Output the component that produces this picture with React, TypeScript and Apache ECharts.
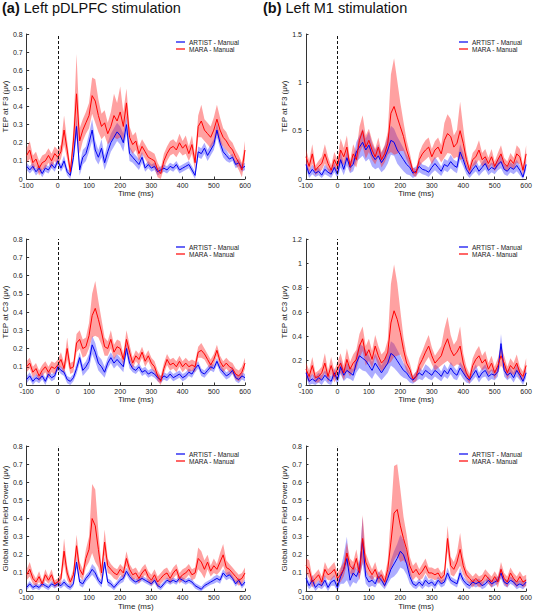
import React, { useEffect, useRef } from "react";
import * as echarts from "echarts";

// ---------- data ----------
const times = [
  "-100", "-90", "-80", "-70", "-60", "-50", "-40", "-30", "-20", "-10",
  "0", "10", "20", "30", "40", "50", "60", "70", "80", "90",
  "100", "110", "120", "130", "140", "150", "160", "170", "180", "190",
  "200", "210", "220", "230", "240", "250", "260", "270", "280", "290",
  "300", "310", "320", "330", "340", "350", "360", "370", "380", "390",
  "400", "410", "420", "430", "440", "450", "460", "470", "480", "490",
  "500", "510", "520", "530", "540", "550", "560", "570", "580", "590",
  "600",
];

const legendNames = ["ARTIST - Manual", "MARA - Manual"];

// (a) pDLPFC, F3
const a1Mara = [
  0.13, 0.16, 0.09, 0.11, 0.06, 0.09, 0.10, 0.13, 0.10, 0.14,
  0.12, 0.15, 0.27, 0.16, 0.04, 0.21, 0.47, 0.21, 0.27, 0.31,
  0.35, 0.46, 0.43, 0.35, 0.29, 0.31, 0.25, 0.29, 0.35, 0.32,
  0.37, 0.29, 0.42, 0.23, 0.19, 0.21, 0.14, 0.18, 0.15, 0.12,
  0.11, 0.10, 0.05, 0.03, 0.10, 0.14, 0.17, 0.18, 0.16, 0.20,
  0.17, 0.19, 0.14, 0.19, 0.09, 0.29, 0.32, 0.27, 0.25, 0.23,
  0.27, 0.33, 0.27, 0.23, 0.21, 0.18, 0.16, 0.12, 0.09, 0.05,
  0.16,
];
const a1MaraSpread = [
  0.04, 0.05, 0.04, 0.04, 0.04, 0.04, 0.04, 0.04, 0.04, 0.04,
  0.04, 0.04, 0.08, 0.05, 0.03, 0.06, 0.22, 0.07, 0.06, 0.06,
  0.07, 0.10, 0.12, 0.09, 0.07, 0.07, 0.06, 0.08, 0.12, 0.10,
  0.14, 0.08, 0.08, 0.06, 0.05, 0.05, 0.04, 0.04, 0.04, 0.04,
  0.04, 0.04, 0.04, 0.03, 0.04, 0.04, 0.04, 0.04, 0.04, 0.05,
  0.04, 0.05, 0.04, 0.05, 0.04, 0.06, 0.09, 0.06, 0.06, 0.06,
  0.07, 0.08, 0.07, 0.05, 0.05, 0.04, 0.04, 0.04, 0.04, 0.04,
  0.05,
];
const a1Artist = [
  0.07, 0.05, 0.07, 0.04, 0.06, 0.03, 0.06, 0.05, 0.08, 0.06,
  0.10, 0.06, 0.10, 0.04, 0.02, 0.12, 0.29, 0.05, 0.12, 0.14,
  0.20, 0.27, 0.16, 0.12, 0.17, 0.09, 0.15, 0.20, 0.23, 0.26,
  0.24, 0.20, 0.30, 0.14, 0.12, 0.10, 0.08, 0.12, 0.06, 0.08,
  0.06, 0.07, 0.04, 0.05, 0.06, 0.05, 0.07, 0.06, 0.08, 0.05,
  0.06, 0.07, 0.08, 0.05, 0.02, 0.15, 0.14, 0.17, 0.13, 0.16,
  0.19, 0.27, 0.20, 0.15, 0.13, 0.11, 0.12, 0.08, 0.09, 0.06,
  0.07,
];
const a1ArtistSpread = [
  0.02, 0.02, 0.02, 0.02, 0.02, 0.02, 0.02, 0.02, 0.02, 0.02,
  0.02, 0.02, 0.03, 0.02, 0.02, 0.03, 0.06, 0.03, 0.04, 0.04,
  0.05, 0.06, 0.05, 0.04, 0.05, 0.04, 0.05, 0.05, 0.05, 0.05,
  0.05, 0.05, 0.05, 0.04, 0.03, 0.03, 0.03, 0.03, 0.02, 0.02,
  0.02, 0.02, 0.02, 0.02, 0.02, 0.02, 0.02, 0.02, 0.02, 0.02,
  0.02, 0.02, 0.02, 0.02, 0.02, 0.03, 0.03, 0.03, 0.03, 0.03,
  0.03, 0.04, 0.03, 0.03, 0.03, 0.02, 0.02, 0.02, 0.02, 0.02,
  0.02,
];

// (b) M1, F3
const b1Mara = [
  0.23, 0.13, 0.26, 0.09, 0.13, 0.16, 0.26, 0.16, 0.09, 0.20,
  0.13, 0.30, 0.23, 0.33, 0.13, 0.26, 0.20, 0.40, 0.50, 0.33,
  0.40, 0.30, 0.23, 0.33, 0.20, 0.26, 0.37, 0.68, 0.75, 0.64,
  0.54, 0.44, 0.30, 0.20, 0.08, 0.06, 0.20, 0.26, 0.30, 0.33,
  0.23, 0.30, 0.33, 0.26, 0.40, 0.47, 0.44, 0.33, 0.37, 0.50,
  0.37, 0.20, 0.09, 0.20, 0.23, 0.30, 0.20, 0.23, 0.16, 0.23,
  0.13, 0.20, 0.26, 0.16, 0.13, 0.20, 0.16, 0.26, 0.23, 0.09,
  0.26,
];
const b1MaraSpread = [
  0.08, 0.06, 0.10, 0.05, 0.06, 0.07, 0.10, 0.07, 0.05, 0.08,
  0.07, 0.12, 0.09, 0.12, 0.06, 0.10, 0.08, 0.14, 0.16, 0.12,
  0.12, 0.10, 0.08, 0.10, 0.08, 0.09, 0.12, 0.40, 0.50, 0.38,
  0.25, 0.15, 0.10, 0.07, 0.04, 0.04, 0.07, 0.09, 0.10, 0.10,
  0.08, 0.09, 0.10, 0.09, 0.18, 0.20, 0.18, 0.12, 0.14, 0.30,
  0.16, 0.08, 0.05, 0.07, 0.08, 0.10, 0.07, 0.08, 0.06, 0.08,
  0.05, 0.07, 0.09, 0.06, 0.05, 0.07, 0.06, 0.09, 0.08, 0.05,
  0.09,
];
const b1Artist = [
  0.15, 0.05, 0.10, 0.06, 0.08, 0.04, 0.10, 0.07, 0.05, 0.12,
  0.05, 0.20, 0.10, 0.22, 0.12, 0.15, 0.28, 0.33, 0.38, 0.30,
  0.35, 0.25, 0.20, 0.24, 0.17, 0.22, 0.30, 0.40, 0.38, 0.30,
  0.25, 0.20, 0.15, 0.12, 0.06, 0.08, 0.13, 0.10, 0.09, 0.07,
  0.12, 0.16, 0.12, 0.08, 0.15, 0.13, 0.18, 0.14, 0.12, 0.28,
  0.20, 0.10, 0.05, 0.10, 0.14, 0.08, 0.12, 0.16, 0.09, 0.12,
  0.10, 0.15, 0.18, 0.10, 0.08, 0.12, 0.10, 0.14, 0.09, 0.02,
  0.15,
];
const b1ArtistSpread = [
  0.05, 0.04, 0.05, 0.04, 0.04, 0.03, 0.05, 0.04, 0.04, 0.05,
  0.04, 0.08, 0.06, 0.08, 0.06, 0.07, 0.10, 0.12, 0.14, 0.12,
  0.14, 0.12, 0.10, 0.12, 0.10, 0.12, 0.14, 0.15, 0.14, 0.14,
  0.13, 0.12, 0.10, 0.08, 0.05, 0.05, 0.06, 0.05, 0.05, 0.05,
  0.06, 0.07, 0.06, 0.05, 0.06, 0.06, 0.07, 0.06, 0.06, 0.08,
  0.07, 0.05, 0.04, 0.05, 0.06, 0.05, 0.05, 0.06, 0.05, 0.05,
  0.05, 0.06, 0.07, 0.05, 0.05, 0.05, 0.05, 0.06, 0.05, 0.03,
  0.06,
];

// (a) pDLPFC, C3
const a2Mara = [
  0.10, 0.12, 0.07, 0.09, 0.05, 0.08, 0.10, 0.07, 0.10, 0.09,
  0.11, 0.14, 0.09, 0.20, 0.09, 0.10, 0.23, 0.25, 0.20, 0.21,
  0.27, 0.38, 0.42, 0.36, 0.29, 0.21, 0.20, 0.25, 0.18, 0.21,
  0.20, 0.14, 0.25, 0.18, 0.12, 0.16, 0.14, 0.18, 0.13, 0.16,
  0.12, 0.10, 0.05, 0.02, 0.09, 0.14, 0.11, 0.12, 0.10, 0.13,
  0.10, 0.12, 0.10, 0.11, 0.10, 0.18, 0.19, 0.17, 0.14, 0.11,
  0.14, 0.19, 0.13, 0.10, 0.12, 0.10, 0.09, 0.06, 0.05, 0.07,
  0.12,
];
const a2MaraSpread = [
  0.03, 0.03, 0.03, 0.03, 0.03, 0.03, 0.03, 0.03, 0.03, 0.03,
  0.03, 0.04, 0.03, 0.06, 0.03, 0.03, 0.05, 0.05, 0.05, 0.05,
  0.07, 0.12, 0.15, 0.10, 0.07, 0.05, 0.04, 0.05, 0.04, 0.04,
  0.04, 0.03, 0.05, 0.04, 0.03, 0.03, 0.03, 0.03, 0.03, 0.03,
  0.03, 0.03, 0.03, 0.03, 0.03, 0.03, 0.03, 0.03, 0.03, 0.03,
  0.03, 0.03, 0.03, 0.03, 0.03, 0.03, 0.04, 0.03, 0.03, 0.03,
  0.03, 0.03, 0.03, 0.03, 0.03, 0.03, 0.03, 0.03, 0.03, 0.03,
  0.03,
];
const a2Artist = [
  0.03, 0.05, 0.02, 0.04, 0.03, 0.05, 0.02, 0.06, 0.04, 0.05,
  0.10, 0.08, 0.07, 0.03, 0.02, 0.04, 0.09, 0.15, 0.08, 0.10,
  0.13, 0.22, 0.18, 0.12, 0.10, 0.07, 0.12, 0.15, 0.12, 0.14,
  0.12, 0.10, 0.20, 0.12, 0.09, 0.08, 0.10, 0.07, 0.08, 0.06,
  0.07, 0.06, 0.04, 0.03, 0.05, 0.04, 0.06, 0.04, 0.05, 0.06,
  0.04, 0.05, 0.07, 0.06, 0.09, 0.11, 0.07, 0.06, 0.08, 0.10,
  0.09, 0.13, 0.09, 0.07, 0.05, 0.06, 0.08, 0.04, 0.03, 0.05,
  0.04,
];
const a2ArtistSpread = [
  0.02, 0.02, 0.02, 0.02, 0.02, 0.02, 0.02, 0.02, 0.02, 0.02,
  0.02, 0.02, 0.02, 0.02, 0.02, 0.02, 0.03, 0.03, 0.03, 0.03,
  0.04, 0.05, 0.05, 0.04, 0.04, 0.03, 0.03, 0.03, 0.03, 0.03,
  0.03, 0.03, 0.03, 0.03, 0.02, 0.02, 0.02, 0.02, 0.02, 0.02,
  0.02, 0.02, 0.02, 0.02, 0.02, 0.02, 0.02, 0.02, 0.02, 0.02,
  0.02, 0.02, 0.02, 0.02, 0.02, 0.02, 0.02, 0.02, 0.02, 0.02,
  0.02, 0.02, 0.02, 0.02, 0.02, 0.02, 0.02, 0.02, 0.02, 0.02,
  0.02,
];

// (b) M1, C3
const b2Mara = [
  0.13, 0.07, 0.16, 0.06, 0.07, 0.10, 0.18, 0.07, 0.16, 0.07,
  0.13, 0.18, 0.10, 0.21, 0.13, 0.18, 0.21, 0.32, 0.38, 0.24,
  0.29, 0.21, 0.32, 0.24, 0.18, 0.21, 0.27, 0.51, 0.61, 0.54,
  0.43, 0.29, 0.18, 0.13, 0.05, 0.07, 0.16, 0.21, 0.27, 0.32,
  0.24, 0.18, 0.21, 0.24, 0.32, 0.38, 0.29, 0.24, 0.27, 0.32,
  0.18, 0.10, 0.05, 0.16, 0.21, 0.24, 0.18, 0.21, 0.13, 0.18,
  0.10, 0.16, 0.24, 0.18, 0.10, 0.16, 0.13, 0.18, 0.10, 0.07,
  0.16,
];
const b2MaraSpread = [
  0.06, 0.05, 0.07, 0.04, 0.05, 0.05, 0.08, 0.05, 0.07, 0.05,
  0.06, 0.08, 0.06, 0.09, 0.06, 0.07, 0.08, 0.10, 0.10, 0.08,
  0.09, 0.07, 0.09, 0.08, 0.07, 0.07, 0.10, 0.32, 0.38, 0.30,
  0.18, 0.10, 0.07, 0.05, 0.03, 0.04, 0.06, 0.07, 0.08, 0.09,
  0.07, 0.06, 0.07, 0.08, 0.14, 0.18, 0.12, 0.09, 0.10, 0.16,
  0.08, 0.05, 0.04, 0.06, 0.07, 0.08, 0.06, 0.07, 0.05, 0.06,
  0.05, 0.06, 0.08, 0.06, 0.05, 0.06, 0.05, 0.07, 0.05, 0.04,
  0.06,
];
const b2Artist = [
  0.10, 0.03, 0.05, 0.03, 0.06, 0.04, 0.08, 0.05, 0.03, 0.10,
  0.04, 0.15, 0.08, 0.12, 0.10, 0.08, 0.18, 0.24, 0.22, 0.20,
  0.16, 0.12, 0.18, 0.14, 0.10, 0.14, 0.18, 0.26, 0.24, 0.20,
  0.16, 0.12, 0.10, 0.06, 0.04, 0.07, 0.10, 0.08, 0.12, 0.10,
  0.08, 0.12, 0.10, 0.07, 0.12, 0.09, 0.14, 0.10, 0.08, 0.14,
  0.10, 0.06, 0.04, 0.08, 0.12, 0.06, 0.10, 0.12, 0.07, 0.09,
  0.08, 0.11, 0.34, 0.12, 0.08, 0.10, 0.06, 0.12, 0.08, 0.03,
  0.10,
];
const b2ArtistSpread = [
  0.04, 0.04, 0.04, 0.04, 0.04, 0.04, 0.04, 0.04, 0.04, 0.04,
  0.04, 0.06, 0.05, 0.06, 0.05, 0.05, 0.08, 0.10, 0.10, 0.09,
  0.08, 0.07, 0.08, 0.07, 0.06, 0.07, 0.08, 0.10, 0.10, 0.09,
  0.08, 0.06, 0.05, 0.04, 0.03, 0.04, 0.05, 0.04, 0.05, 0.05,
  0.04, 0.05, 0.05, 0.04, 0.05, 0.04, 0.05, 0.05, 0.04, 0.05,
  0.05, 0.04, 0.03, 0.04, 0.05, 0.04, 0.04, 0.05, 0.04, 0.04,
  0.04, 0.04, 0.08, 0.05, 0.04, 0.04, 0.04, 0.05, 0.04, 0.03,
  0.04,
];

// (a) pDLPFC, GMFP
const a3Mara = [
  0.09, 0.12, 0.07, 0.05, 0.08, 0.04, 0.09, 0.06, 0.09, 0.04,
  0.05, 0.07, 0.22, 0.10, 0.05, 0.09, 0.25, 0.12, 0.09, 0.18,
  0.23, 0.40, 0.36, 0.23, 0.10, 0.27, 0.14, 0.12, 0.10, 0.09,
  0.12, 0.10, 0.18, 0.12, 0.09, 0.10, 0.07, 0.10, 0.12, 0.08,
  0.06, 0.09, 0.05, 0.07, 0.09, 0.10, 0.07, 0.10, 0.12, 0.07,
  0.09, 0.10, 0.12, 0.09, 0.10, 0.18, 0.16, 0.12, 0.16, 0.11,
  0.14, 0.12, 0.16, 0.20, 0.13, 0.12, 0.10, 0.08, 0.06, 0.07,
  0.10,
];
const a3MaraSpread = [
  0.03, 0.04, 0.03, 0.02, 0.03, 0.02, 0.03, 0.02, 0.03, 0.02,
  0.02, 0.03, 0.07, 0.04, 0.02, 0.03, 0.06, 0.04, 0.03, 0.05,
  0.07, 0.19, 0.20, 0.10, 0.04, 0.07, 0.04, 0.03, 0.03, 0.03,
  0.03, 0.03, 0.04, 0.03, 0.03, 0.03, 0.03, 0.03, 0.03, 0.03,
  0.03, 0.03, 0.03, 0.03, 0.03, 0.03, 0.03, 0.03, 0.03, 0.03,
  0.03, 0.03, 0.03, 0.03, 0.03, 0.06, 0.06, 0.05, 0.04, 0.03,
  0.04, 0.03, 0.05, 0.06, 0.04, 0.03, 0.03, 0.03, 0.03, 0.03,
  0.03,
];
const a3Artist = [
  0.02, 0.04, 0.02, 0.03, 0.02, 0.04, 0.03, 0.02, 0.04, 0.03,
  0.04, 0.03, 0.05, 0.03, 0.02, 0.04, 0.16, 0.05, 0.04, 0.07,
  0.09, 0.12, 0.10, 0.06, 0.04, 0.16, 0.05, 0.04, 0.02, 0.04,
  0.06, 0.07, 0.11, 0.08, 0.06, 0.05, 0.06, 0.07, 0.06, 0.05,
  0.04, 0.06, 0.03, 0.02, 0.04, 0.06, 0.05, 0.06, 0.05, 0.07,
  0.06, 0.05, 0.06, 0.05, 0.03, 0.02, 0.01, 0.03, 0.04, 0.05,
  0.06, 0.07, 0.06, 0.10, 0.08, 0.09, 0.07, 0.04, 0.06, 0.03,
  0.05,
];
const a3ArtistSpread = [
  0.015, 0.015, 0.015, 0.015, 0.015, 0.015, 0.015, 0.015, 0.015, 0.015,
  0.015, 0.015, 0.02, 0.015, 0.015, 0.015, 0.03, 0.02, 0.02, 0.02,
  0.02, 0.03, 0.03, 0.02, 0.02, 0.03, 0.02, 0.02, 0.015, 0.015,
  0.02, 0.02, 0.02, 0.02, 0.015, 0.015, 0.015, 0.015, 0.015, 0.015,
  0.015, 0.015, 0.015, 0.015, 0.015, 0.015, 0.015, 0.015, 0.015, 0.015,
  0.015, 0.015, 0.015, 0.015, 0.015, 0.015, 0.015, 0.015, 0.015, 0.015,
  0.02, 0.02, 0.02, 0.02, 0.02, 0.02, 0.015, 0.015, 0.015, 0.015,
  0.015,
];

// (b) M1, GMFP
const b3Mara = [
  0.14, 0.12, 0.05, 0.07, 0.09, 0.05, 0.12, 0.09, 0.10, 0.12,
  0.07, 0.09, 0.12, 0.21, 0.14, 0.12, 0.18, 0.10, 0.29, 0.16,
  0.12, 0.09, 0.12, 0.07, 0.09, 0.05, 0.12, 0.27, 0.43, 0.45,
  0.36, 0.29, 0.23, 0.14, 0.10, 0.12, 0.09, 0.11, 0.14, 0.10,
  0.10, 0.09, 0.10, 0.07, 0.09, 0.29, 0.14, 0.12, 0.16, 0.23,
  0.14, 0.09, 0.07, 0.05, 0.07, 0.05, 0.06, 0.09, 0.07, 0.05,
  0.08, 0.05, 0.12, 0.07, 0.05, 0.10, 0.07, 0.05, 0.08, 0.05,
  0.06,
];
const b3MaraSpread = [
  0.04, 0.05, 0.03, 0.03, 0.03, 0.03, 0.04, 0.03, 0.04, 0.04,
  0.03, 0.04, 0.04, 0.06, 0.04, 0.04, 0.05, 0.04, 0.13, 0.05,
  0.04, 0.03, 0.04, 0.03, 0.03, 0.03, 0.05, 0.15, 0.26, 0.25,
  0.20, 0.12, 0.08, 0.05, 0.04, 0.04, 0.03, 0.04, 0.04, 0.03,
  0.03, 0.03, 0.03, 0.03, 0.03, 0.07, 0.05, 0.04, 0.05, 0.09,
  0.05, 0.03, 0.03, 0.03, 0.03, 0.03, 0.03, 0.03, 0.03, 0.03,
  0.03, 0.03, 0.04, 0.03, 0.03, 0.03, 0.03, 0.03, 0.03, 0.03,
  0.03,
];
const b3Artist = [
  0.07, 0.03, 0.06, 0.02, 0.04, 0.03, 0.06, 0.02, 0.05, 0.06,
  0.02, 0.08, 0.12, 0.18, 0.06, 0.10, 0.08, 0.12, 0.28, 0.08,
  0.05, 0.06, 0.04, 0.08, 0.06, 0.03, 0.07, 0.12, 0.15, 0.18,
  0.22, 0.20, 0.15, 0.08, 0.04, 0.03, 0.05, 0.03, 0.06, 0.04,
  0.05, 0.03, 0.06, 0.04, 0.05, 0.10, 0.06, 0.05, 0.04, 0.10,
  0.06, 0.04, 0.03, 0.05, 0.04, 0.05, 0.03, 0.04, 0.06, 0.04,
  0.05, 0.06, 0.10, 0.05, 0.04, 0.06, 0.05, 0.03, 0.04, 0.03,
  0.05,
];
const b3ArtistSpread = [
  0.03, 0.02, 0.03, 0.02, 0.02, 0.02, 0.03, 0.02, 0.02, 0.03,
  0.02, 0.04, 0.08, 0.12, 0.04, 0.05, 0.04, 0.05, 0.13, 0.04,
  0.03, 0.03, 0.02, 0.03, 0.03, 0.02, 0.03, 0.05, 0.07, 0.08,
  0.09, 0.08, 0.06, 0.04, 0.02, 0.02, 0.02, 0.02, 0.03, 0.02,
  0.02, 0.02, 0.02, 0.02, 0.02, 0.03, 0.02, 0.02, 0.02, 0.03,
  0.02, 0.02, 0.02, 0.02, 0.02, 0.02, 0.02, 0.02, 0.02, 0.02,
  0.02, 0.02, 0.03, 0.02, 0.02, 0.02, 0.02, 0.02, 0.02, 0.02,
  0.02,
];

// ---------- layout / panel config ----------
const FONT = "Liberation Sans, Arial, Helvetica, sans-serif";
const RED = "#ff0000";
const BLUE = "#0000f0";
const RED_BAND = "rgba(255, 30, 30, 0.42)";
const BLUE_BAND = "rgba(40, 40, 255, 0.38)";

const panels = [
  { left: 23, top: 34, height: 145, yMax: 0.8, yStep: 0.1, yName: "TEP at F3 (\u03bcv)", mara: a1Mara, maraS: a1MaraSpread, artist: a1Artist, artistS: a1ArtistSpread },
  { left: 306, top: 34, height: 145, yMax: 1.5, yStep: 0.5, yName: "TEP at F3 (\u03bcv)", mara: b1Mara, maraS: b1MaraSpread, artist: b1Artist, artistS: b1ArtistSpread },
  { left: 23, top: 239, height: 146, yMax: 0.8, yStep: 0.1, yName: "TEP at C3 (\u03bcv)", mara: a2Mara, maraS: a2MaraSpread, artist: a2Artist, artistS: a2ArtistSpread },
  { left: 306, top: 239, height: 146, yMax: 1.2, yStep: 0.2, yName: "TEP at C3 (\u03bcv)", mara: b2Mara, maraS: b2MaraSpread, artist: b2Artist, artistS: b2ArtistSpread },
  { left: 23, top: 446, height: 146, yMax: 0.8, yStep: 0.1, yName: "Global Mean Field Power (\u03bcv)", mara: a3Mara, maraS: a3MaraSpread, artist: a3Artist, artistS: a3ArtistSpread },
  { left: 306, top: 446, height: 146, yMax: 0.8, yStep: 0.1, yName: "Global Mean Field Power (\u03bcv)", mara: b3Mara, maraS: b3MaraSpread, artist: b3Artist, artistS: b3ArtistSpread },
];
const PLOT_W = 222;

function bandSeries(i: number, mean: number[], spread: number[], color: string, id: string) {
  const lower = mean.map((m, j) => Math.max(0, m - spread[j]));
  const diff = mean.map((m, j) => m + spread[j] - lower[j]);
  const common = {
    type: "line",
    xAxisIndex: i,
    yAxisIndex: i,
    stack: id,
    stackStrategy: "all",
    symbol: "none",
    silent: true,
    lineStyle: { width: 0, opacity: 0 },
  };
  return [
    { ...common, name: id + "-lo", data: lower },
    { ...common, name: id + "-hi", data: diff, areaStyle: { color, opacity: 1 } },
  ];
}

function lineSeries(i: number, mean: number[], color: string, name: string, withMark: boolean) {
  const s: any = {
    type: "line",
    name,
    xAxisIndex: i,
    yAxisIndex: i,
    symbol: "none",
    color,
    itemStyle: { color },
    lineStyle: { color, width: 1 },
    data: mean,
  };
  if (withMark) {
    s.markLine = {
      silent: true,
      symbol: ["none", "none"],
      label: { show: false },
      lineStyle: { type: [3, 2], color: "#111", width: 1 },
      data: [{ xAxis: "0" }],
    };
  }
  return s;
}

export default function App() {
  const ref = useRef<HTMLDivElement>(null);
  useEffect(() => {
    if (!ref.current) return;
    const chart = echarts.init(ref.current, null, { renderer: "svg" });
    const grid = panels.map((p) => ({ left: p.left, top: p.top, width: PLOT_W, height: p.height, containLabel: false }));
    const xAxis = panels.map((p, i) => ({
      type: "category",
      gridIndex: i,
      data: times,
      boundaryGap: false,
      name: "Time (ms)",
      nameLocation: "middle",
      nameGap: 10,
      nameTextStyle: { fontSize: 8, color: "#222", fontFamily: FONT },
      axisLine: { show: true, lineStyle: { color: "#333", width: 1 } },
      axisTick: { show: true, inside: true, length: 2.5, interval: 9, lineStyle: { color: "#333" } },
      axisLabel: { fontSize: 7, color: "#222", margin: 3, fontFamily: FONT, interval: 9, showMinLabel: true, showMaxLabel: true },
      splitLine: { show: false },
    }));
    const yAxis = panels.map((p, i) => ({
      type: "value",
      gridIndex: i,
      min: 0,
      max: p.yMax,
      interval: p.yStep,
      name: p.yName,
      nameLocation: "middle",
      nameGap: 14,
      nameTextStyle: { fontSize: 8, color: "#222", fontFamily: FONT },
      axisLine: { show: true, lineStyle: { color: "#333", width: 1 } },
      axisTick: { show: true, inside: true, length: 2.5, lineStyle: { color: "#333" } },
      axisLabel: { fontSize: 7, color: "#222", margin: 4, fontFamily: FONT },
      splitLine: { show: false },
    }));
    const series: any[] = [];
    panels.forEach((p, i) => {
      series.push(...bandSeries(i, p.artist, p.artistS, BLUE_BAND, "artist" + i));
      series.push(lineSeries(i, p.artist, BLUE, legendNames[0], false));
      series.push(...bandSeries(i, p.mara, p.maraS, RED_BAND, "mara" + i));
      series.push(lineSeries(i, p.mara, RED, legendNames[1], true));
    });
    const legend = panels.map((p) => ({
      data: legendNames,
      orient: "vertical",
      left: p.left + 153,
      top: p.top + 4.5,
      itemGap: 0,
      itemWidth: 9,
      itemHeight: 1.2,
      icon: "rect",
      selectedMode: false,
      padding: 0,
      textStyle: { fontSize: 6.5, color: "#222", fontFamily: FONT, lineHeight: 7, padding: [0, 0, 0, -1] },
    }));
    const graphic = [
      {
        type: "text",
        x: 2,
        y: 8,
        style: {
          text: "{b|(a)} Left pDLPFC stimulation",
          fontSize: 14.5,
          fontFamily: FONT,
          fill: "#111",
          verticalAlign: "middle",
          rich: { b: { fontWeight: "bold", fontSize: 14.5, fontFamily: FONT, fill: "#111" } },
        },
      },
      {
        type: "text",
        x: 263,
        y: 8,
        style: {
          text: "{b|(b)} Left M1 stimulation",
          fontSize: 14.5,
          fontFamily: FONT,
          fill: "#111",
          verticalAlign: "middle",
          rich: { b: { fontWeight: "bold", fontSize: 14.5, fontFamily: FONT, fill: "#111" } },
        },
      },
    ];
    chart.setOption({
      animation: false,
      backgroundColor: "#ffffff",
      textStyle: { fontFamily: FONT },
      grid,
      xAxis,
      yAxis,
      legend,
      graphic,
      series,
    });
    return () => chart.dispose();
  }, []);
  return <div ref={ref} style={{ position: "absolute", left: 0, top: 0, width: 535, height: 611 }} />;
}
